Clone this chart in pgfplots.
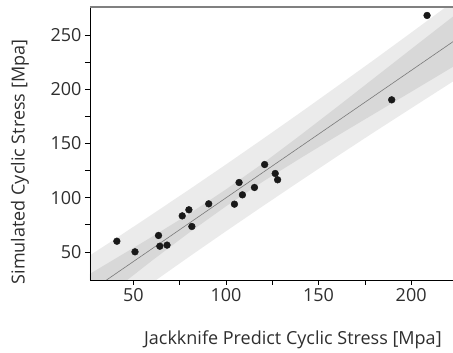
\documentclass[border=0pt]{standalone}
\usepackage{pgfplots}
\pgfplotsset{compat=1.18}
\usepackage{fontspec}
\setmainfont{Open Sans}
\definecolor{txt}{HTML}{2E2E2E}
\definecolor{predband}{HTML}{EBEBEB}
\definecolor{confband}{HTML}{D8D8D8}
\definecolor{fitline}{HTML}{7A7A7A}
\begin{document}
\begin{tikzpicture}
\path[use as bounding box] (-90pt,-73pt) rectangle (363pt,280pt);
\begin{axis}[
  scale only axis,
  width=363pt, height=273pt,
  xmin=26.6, xmax=222.6, ymin=24, ymax=276,
  axis line style={draw=none},
  xtick={50,100,150,200}, ytick={50,100,150,200,250},
  minor xtick={75,125,175}, minor ytick={75,125,175,225},
  tick align=outside,
  major tick length=5pt, minor tick length=5pt,
  tick style={black, line width=0.6pt},
  xtick pos=bottom, ytick pos=left,
  /pgf/number format/assume math mode=true,
  ticklabel style={font=\fontsize{18}{20}\selectfont, text=txt},
  xlabel={Jackknife Predict Cyclic Stress [Mpa]},
  ylabel={Simulated Cyclic Stress [Mpa]},
  label style={font=\fontsize{18}{20}\selectfont, text=txt},
  xlabel style={at={(axis description cs:0.559,-0.22)}, anchor=center},
  ylabel style={at={(axis description cs:-0.193,0.432)}, anchor=center, rotate=0},
  clip=true,
]
% prediction band
\addplot[fill=predband, draw=none] coordinates {
 (26,46.1) (40,61.7) (60,84.4) (80,107.3) (100,130.6) (120,154.3) (140,178.3) (160,202.7) (180,227.3) (200,252.3) (223,281.3)
 (223,207.7) (200,182.5) (180,160.5) (160,138.1) (140,115.3) (120,92.3) (100,69.0) (80,45.3) (60,21.2) (40,-3.3) (26,-20.5)
};
% confidence band
\addplot[fill=confband, draw=none] coordinates {
 (26,29.1) (40,43.4) (60,63.8) (80,84.9) (100,107.6) (120,131.7) (140,157.4) (160,183.7) (180,210.4) (200,237.1) (223,267.7)
 (223,221.2) (200,197.7) (180,177.4) (160,157.0) (140,136.2) (120,114.9) (100,92.0) (80,67.6) (60,41.8) (40,15.0) (26,-3.5)
};
% fit line
\addplot[fitline, line width=0.6pt] coordinates {(26,12.78) (223,244.45)};
% data
\addplot[only marks, mark=*, mark size=3.4pt, mark options={fill=black!90, draw=black!90}] coordinates {
 (41.1,59.8) (50.9,50.0) (63.6,65.1) (64.3,55.2) (68.2,56.2) (76.4,83.2) (80.0,88.8) (81.6,73.4)
 (90.7,94.3) (104.6,94.0) (107.1,114.0) (108.9,102.6) (115.4,109.4) (120.9,130.6) (126.6,122.3)
 (127.9,116.5) (189.5,190.3) (208.6,268.2)
};
\end{axis}
\draw[black, line width=0.8pt] (0,273pt) -- (0,0) -- (363pt,0);
\draw[black!50, line width=1.6pt] (0,273pt) -- (363pt,273pt);
\end{tikzpicture}
\end{document}
